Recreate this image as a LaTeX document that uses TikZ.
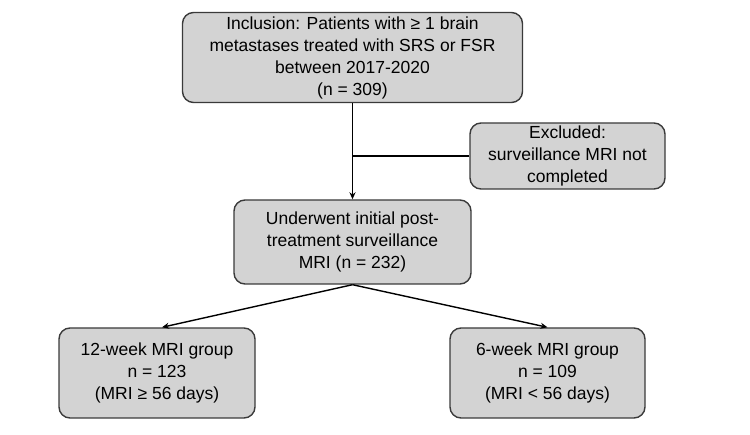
\documentclass[tikz,border=0pt]{standalone}
\usepackage{fontspec}
\setmainfont{Liberation Sans}
\usetikzlibrary{arrows.meta}
\definecolor{boxfill}{HTML}{D3D3D3}
\definecolor{boxline}{HTML}{3A3A3A}
\tikzset{
  flowbox/.style={draw=boxline, line width=1.4pt, fill=boxfill, rounded corners=11pt,
    align=center, inner sep=0pt, font=\fontsize{17.5}{22}\selectfont},
  conn/.style={line width=1.4pt, black},
  arr/.style={conn, -{Stealth[length=7pt,width=6pt]}}
}
\begin{document}
\begin{tikzpicture}[x=1pt,y=-1pt]
\useasboundingbox (0,0) rectangle (750,435);
\node[flowbox, minimum width=340pt, minimum height=90pt] (top) at (352.5,57.5)
  {Inclusion: Patients with ≥ 1 brain\\metastases treated with SRS or FSR\\between 2017-2020\\(n = 309)};
\node[flowbox, minimum width=195pt, minimum height=66pt] (excl) at (567.5,156)
  {Excluded:\\surveillance MRI not\\completed};
\node[flowbox, minimum width=237pt, minimum height=84pt] (mid) at (352.5,242)
  {Underwent initial post-\\treatment surveillance\\MRI (n = 232)};
\node[flowbox, minimum width=196pt, minimum height=90pt] (bl) at (157,373)
  {12-week MRI group\\n = 123\\(MRI ≥ 56 days)};
\node[flowbox, minimum width=195pt, minimum height=90pt] (br) at (547.5,373)
  {6-week MRI group\\n = 109\\(MRI < 56 days)};
\coordinate (j) at (top.south |- excl.west);
\draw[arr] (top.south) -- (mid.north);
\draw[conn] (excl.west) -- (j);
\draw[arr] (mid.south) -- ([xshift=5pt]bl.north);
\draw[arr] (mid.south) -- (br.north);
\end{tikzpicture}
\end{document}
